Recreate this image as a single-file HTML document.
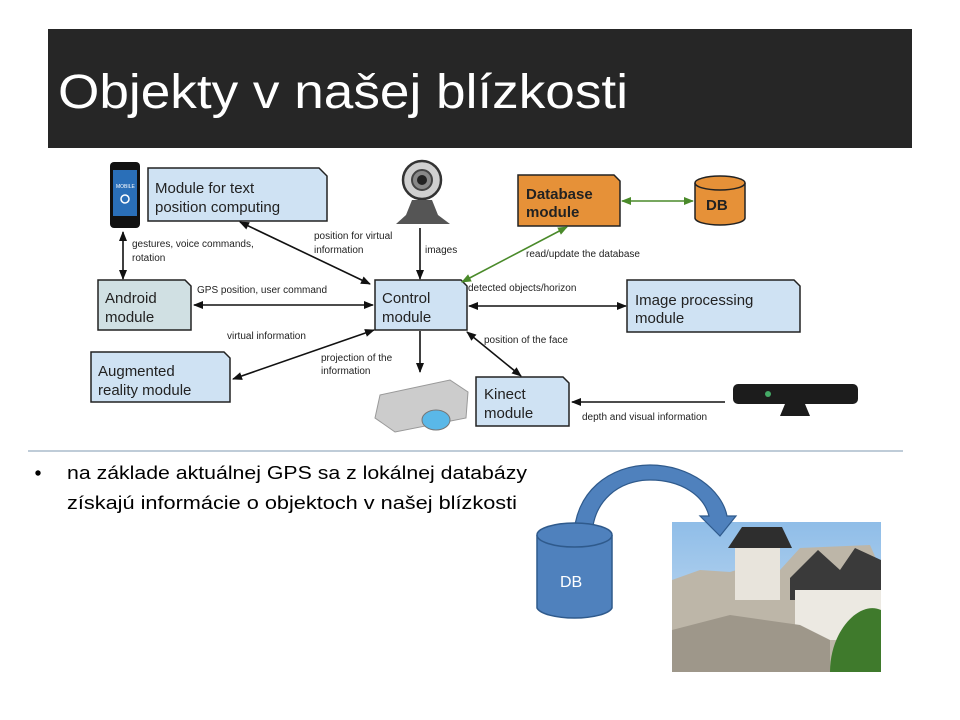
<!DOCTYPE html>
<html><head><meta charset="utf-8"><style>
html,body{margin:0;padding:0;background:#fff;}
svg{display:block;}
text{font-family:"Liberation Sans",sans-serif;}
</style></head><body>
<svg width="960" height="720" viewBox="0 0 960 720" xmlns="http://www.w3.org/2000/svg">
<defs>
<marker id="a" markerWidth="10" markerHeight="8" refX="9" refY="4" orient="auto-start-reverse" markerUnits="userSpaceOnUse"><path d="M0,0 L10,4 L0,8 z" fill="#111"/></marker>
<marker id="g" markerWidth="10" markerHeight="8" refX="9" refY="4" orient="auto-start-reverse" markerUnits="userSpaceOnUse"><path d="M0,0 L10,4 L0,8 z" fill="#4a8a2a"/></marker>
<linearGradient id="sky" x1="0" y1="0" x2="0" y2="1"><stop offset="0" stop-color="#8fbde8"/><stop offset="1" stop-color="#cfe2f3"/></linearGradient>
</defs>
<rect x="48" y="29" width="864" height="119" fill="#262626"/>
<text x="58" y="108" fill="#fff" font-size="48" textLength="570" lengthAdjust="spacingAndGlyphs">Objekty v našej blízkosti</text>

<g stroke="#222" stroke-width="1.5" fill="#cfe2f3">
<path d="M148,168 H319 L327,176 V221 H148 Z"/>
<path d="M98,280 H185 L191,286 V330 H98 Z" fill="#d0e0e3"/>
<path d="M375,280 H461 L467,286 V330 H375 Z"/>
<path d="M91,352 H224 L230,358 V402 H91 Z"/>
<path d="M627,280 H794 L800,286 V332 H627 Z"/>
<path d="M476,377 H563 L569,383 V426 H476 Z"/>
<path d="M518,175 H614 L620,181 V226 H518 Z" fill="#e69138"/>
</g>
<g stroke="#222" stroke-width="1.5" fill="#e69138">
<path d="M695,183 V218 A25,7 0 0 0 745,218 V183"/>
<ellipse cx="720" cy="183" rx="25" ry="7"/>
</g>
<g font-size="15" fill="#222">
<text x="155" y="193">Module for text</text><text x="155" y="212">position computing</text>
<text x="105" y="303">Android</text><text x="105" y="322">module</text>
<text x="382" y="303">Control</text><text x="382" y="322">module</text>
<text x="98" y="376">Augmented</text><text x="98" y="395">reality module</text>
<text x="635" y="305">Image processing</text><text x="635" y="323">module</text>
<text x="484" y="399">Kinect</text><text x="484" y="418">module</text>
<text x="526" y="199" font-weight="bold">Database</text><text x="526" y="217" font-weight="bold">module</text>
<text x="706" y="210" font-weight="bold">DB</text>
</g>
<g stroke="#111" stroke-width="1.6" fill="none">
<line x1="123" y1="232" x2="123" y2="279" marker-start="url(#a)" marker-end="url(#a)"/>
<line x1="240" y1="222" x2="370" y2="284" marker-start="url(#a)" marker-end="url(#a)"/>
<line x1="194" y1="305" x2="373" y2="305" marker-start="url(#a)" marker-end="url(#a)"/>
<line x1="420" y1="228" x2="420" y2="279" marker-end="url(#a)"/>
<line x1="374" y1="330" x2="233" y2="379" marker-start="url(#a)" marker-end="url(#a)"/>
<line x1="420" y1="331" x2="420" y2="372" marker-end="url(#a)"/>
<line x1="469" y1="306" x2="626" y2="306" marker-start="url(#a)" marker-end="url(#a)"/>
<line x1="467" y1="332" x2="521" y2="376" marker-start="url(#a)" marker-end="url(#a)"/>
<line x1="725" y1="402" x2="572" y2="402" marker-end="url(#a)"/>
</g>
<g stroke="#4a8a2a" stroke-width="1.6" fill="none">
<line x1="567" y1="227" x2="462" y2="282" marker-start="url(#g)" marker-end="url(#g)"/>
<line x1="622" y1="201" x2="693" y2="201" marker-start="url(#g)" marker-end="url(#g)"/>
</g>
<g font-size="10" fill="#222">
<text x="132" y="247">gestures, voice commands,</text><text x="132" y="261">rotation</text>
<text x="314" y="239">position for virtual</text><text x="314" y="253">information</text>
<text x="425" y="253">images</text>
<text x="197" y="293">GPS position, user command</text>
<text x="227" y="339">virtual information</text>
<text x="321" y="361">projection of the</text><text x="321" y="374">information</text>
<text x="526" y="257">read/update the database</text>
<text x="468" y="291">detected objects/horizon</text>
<text x="484" y="343">position of the face</text>
<text x="582" y="420">depth and visual information</text>
</g>
<rect x="110" y="162" width="30" height="66" rx="4" fill="#111"/>
<rect x="113" y="170" width="24" height="46" fill="#2a6fb8"/>
<text x="116" y="188" font-size="5" fill="#fff">MOBILE</text>
<circle cx="125" cy="199" r="4" fill="none" stroke="#fff" stroke-width="1.5"/>
<circle cx="422" cy="180" r="19" fill="#d0d0d0" stroke="#333" stroke-width="2.5"/>
<circle cx="422" cy="180" r="10" fill="#888" stroke="#444" stroke-width="2"/>
<circle cx="422" cy="180" r="5" fill="#222"/>
<path d="M412,200 L432,200 L438,215 L450,224 L396,224 L406,215 Z" fill="#555"/>
<path d="M380,395 L450,380 L468,392 L466,418 L395,432 L375,418 Z" fill="#ccc" stroke="#999"/>
<ellipse cx="436" cy="420" rx="14" ry="10" fill="#5ab8e8" stroke="#777"/>
<rect x="733" y="384" width="125" height="20" rx="5" fill="#1c1c1c"/>
<path d="M785,404 H805 L810,416 H780 Z" fill="#1c1c1c"/>
<circle cx="768" cy="394" r="3" fill="#4a6"/>
<line x1="28" y1="451" x2="903" y2="451" stroke="#7f98b0" stroke-width="1"/>
<circle cx="38" cy="473" r="2.7" fill="#000"/>
<text x="67" y="479" font-size="18" fill="#000" textLength="460" lengthAdjust="spacingAndGlyphs">na základe aktuálnej GPS sa z lokálnej databázy</text>
<text x="67" y="509" font-size="18" fill="#000" textLength="450" lengthAdjust="spacingAndGlyphs">získajú informácie o objektoch v našej blízkosti</text>
<rect x="672" y="522" width="209" height="150" fill="url(#sky)"/>
<path d="M672,580 L700,570 L730,572 L760,563 L780,570 L800,548 L870,545 L881,570 V672 H672 Z" fill="#bdb6a8"/>
<rect x="735" y="540" width="45" height="60" fill="#e8e4dc"/>
<path d="M728,548 L742,527 L782,527 L792,548 Z" fill="#2e2e2e"/>
<path d="M790,578 L818,550 L840,570 L855,548 L881,560 V600 H790 Z" fill="#3a3a3a"/>
<rect x="795" y="590" width="86" height="50" fill="#ece9e2"/>
<path d="M672,630 L730,615 L800,625 L830,640 V672 H672 Z" fill="#9e978a"/>
<path d="M830,672 C830,630 860,600 881,610 V672 Z" fill="#3f7a2c"/>
<path d="M574,538 C574,492 610,465 650,465 C690,465 722,490 727,516 L736,516 L720,536 L700,516 L709,516 C704,496 682,480 650,480 C620,480 592,500 592,538 Z" fill="#4f81bd" stroke="#2f5a8c" stroke-width="1.2"/>
<g fill="#4f81bd" stroke="#2f5a8c" stroke-width="1.5">
<path d="M537,535 V608 A38,12 0 0 0 612,608 V535"/>
<ellipse cx="574.5" cy="535" rx="37.5" ry="12"/>
</g>
<text x="560" y="587" font-size="16" fill="#fff">DB</text>
</svg>
</body></html>
